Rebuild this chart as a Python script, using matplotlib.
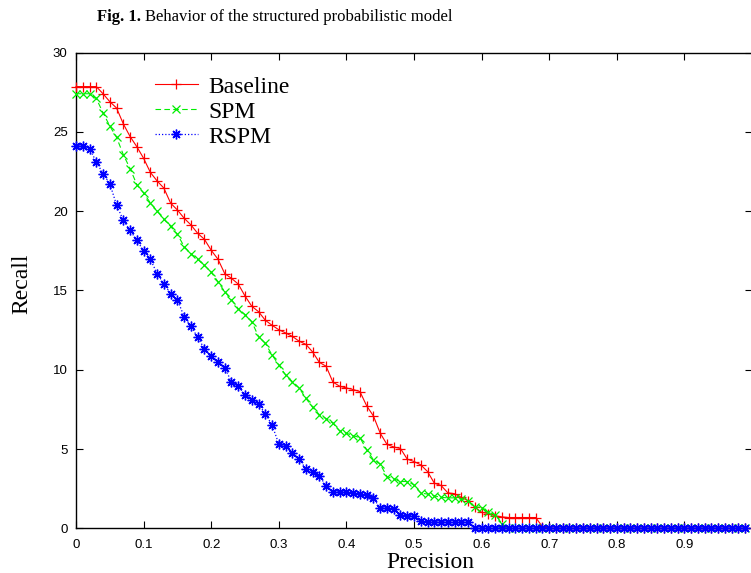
import numpy as np
import matplotlib
matplotlib.use("Agg")
import matplotlib.pyplot as plt

# ---------------- data ----------------
precision = np.round(np.arange(0, 100) * 0.01, 2)

baseline = [27.85, 27.85, 27.85, 27.85, 27.4, 26.9, 26.5, 25.5, 24.7, 24.06,
            23.33, 22.44, 21.9, 21.45, 20.5, 20.07, 19.55, 19.13, 18.6, 18.22,
            17.53, 16.97, 16.06, 15.76, 15.4, 14.65, 14.0, 13.66, 13.12, 12.8,
            12.52, 12.32, 12.1, 11.8, 11.6, 11.12, 10.46, 10.22, 9.22, 8.96,
            8.85, 8.75, 8.62, 7.72, 7.08, 6.0, 5.29, 5.13, 5.03, 4.36,
            4.21, 4.0, 3.58, 2.85, 2.7, 2.24, 2.18, 1.95, 1.74, 1.34,
            1.01, 0.93, 0.79, 0.72, 0.68, 0.68, 0.68, 0.68, 0.68, 0.1,
            0, 0, 0, 0, 0, 0, 0, 0, 0, 0,
            0, 0, 0, 0, 0, 0, 0, 0, 0, 0,
            0, 0, 0, 0, 0, 0, 0, 0, 0, 0]

spm = [27.4, 27.4, 27.4, 27.1, 26.2, 25.36, 24.65, 23.56, 22.68, 21.67,
       21.14, 20.52, 20.0, 19.48, 19.03, 18.54, 17.76, 17.32, 16.95, 16.58,
       16.15, 15.55, 14.92, 14.42, 13.84, 13.48, 13.03, 12.09, 11.67, 10.93,
       10.3, 9.67, 9.25, 8.85, 8.2, 7.63, 7.17, 6.92, 6.63, 6.14,
       6.0, 5.84, 5.72, 4.95, 4.32, 4.05, 3.26, 3.12, 2.95, 2.95,
       2.74, 2.22, 2.16, 2.05, 1.95, 1.92, 1.92, 1.84, 1.73, 1.37,
       1.3, 1.0, 0.87, 0.3, 0, 0, 0, 0, 0, 0,
       0, 0, 0, 0, 0, 0, 0, 0, 0, 0,
       0, 0, 0, 0, 0, 0, 0, 0, 0, 0,
       0, 0, 0, 0, 0, 0, 0, 0, 0, 0]

rspm = [24.1, 24.1, 23.94, 23.11, 22.36, 21.73, 20.38, 19.42, 18.78, 18.16,
        17.49, 16.96, 16.06, 15.41, 14.8, 14.4, 13.35, 12.74, 12.04, 11.32,
        10.88, 10.47, 10.13, 9.23, 8.96, 8.41, 8.12, 7.84, 7.21, 6.52,
        5.32, 5.2, 4.75, 4.36, 3.75, 3.58, 3.31, 2.68, 2.32, 2.26,
        2.26, 2.22, 2.16, 2.08, 1.9, 1.27, 1.27, 1.22, 0.85, 0.8,
        0.79, 0.43, 0.38, 0.38, 0.38, 0.38, 0.38, 0.38, 0.38, 0,
        0, 0, 0, 0, 0, 0, 0, 0, 0, 0,
        0, 0, 0, 0, 0, 0, 0, 0, 0, 0,
        0, 0, 0, 0, 0, 0, 0, 0, 0, 0,
        0, 0, 0, 0, 0, 0, 0, 0, 0, 0]

series_labels = ["Baseline", "SPM", "RSPM"]
x_ticks = [0, 0.1, 0.2, 0.3, 0.4, 0.5, 0.6, 0.7, 0.8, 0.9]
x_tick_labels = ["0", "0.1", "0.2", "0.3", "0.4", "0.5", "0.6", "0.7", "0.8", "0.9"]
y_ticks = [0, 5, 10, 15, 20, 25, 30]
title_bold = "Fig. 1."
title_rest = "Behavior of the structured probabilistic model"

# ---------------- figure ----------------
W, H = 751, 573
fig = plt.figure(figsize=(W / 100, H / 100), dpi=100)
ax_left, ax_right, ax_bottom, ax_top = 76, 752, 528.3, 52.5
ax = fig.add_axes([ax_left / W, (H - ax_bottom) / H,
                   (ax_right - ax_left) / W, (ax_bottom - ax_top) / H])

serif = "Liberation Serif"
sans = "Liberation Sans"

ax.plot(precision, baseline, color="#ff0000", lw=0.8, ls="-",
        marker="+", ms=7, mew=0.9, label=series_labels[0], clip_on=False, zorder=3)
ax.plot(precision, spm, color="#00ee00", lw=0.8, ls=(0, (5, 3)),
        marker="x", ms=6, mew=0.9, label=series_labels[1], clip_on=False, zorder=4)
ax.plot(precision, rspm, color="#0000ff", lw=0.9, ls=(0, (1, 1.6)),
        marker=(8, 2, 0), ms=7, mew=1.0, label=series_labels[2], clip_on=False, zorder=5)

ax.set_xlim(0, 1)
ax.set_ylim(0, 30)
ax.set_xticks(x_ticks)
ax.set_xticklabels(x_tick_labels)
ax.set_yticks(y_ticks)
ax.tick_params(axis="both", direction="in", length=5, width=0.8,
               top=True, right=True, labelsize=9.5)
ax.tick_params(axis="x", pad=8)
ax.tick_params(axis="y", pad=6)
for lab in ax.get_xticklabels() + ax.get_yticklabels():
    lab.set_fontfamily(sans)
for s in ax.spines.values():
    s.set_linewidth(1.0)

fig.text(430 / W, 1 - 563 / H, "Precision", family=serif, fontsize=17,
         ha="center", va="center")
fig.text(22 / W, 1 - 284 / H, "Recall", family=serif, fontsize=17,
         ha="center", va="center", rotation=90)

# title: bold part + regular part
t1 = fig.text(97 / W, 1 - 17 / H, title_bold, family=serif, fontsize=12,
              weight="bold", ha="left", va="center")
fig.canvas.draw()
bb = t1.get_window_extent(fig.canvas.get_renderer())
fig.text((bb.x1 + 4) / W, 1 - 17 / H, title_rest, family=serif, fontsize=12,
         ha="left", va="center")

leg = ax.legend(loc="upper left", bbox_to_anchor=(155 / W, 1 - 76 / H),
                bbox_transform=fig.transFigure, frameon=False,
                prop={"family": serif, "size": 17}, handlelength=1.8,
                handletextpad=0.45, labelspacing=0.15, borderpad=0,
                borderaxespad=0, numpoints=1, markerfirst=True)

fig.savefig("out.png", dpi=100)
